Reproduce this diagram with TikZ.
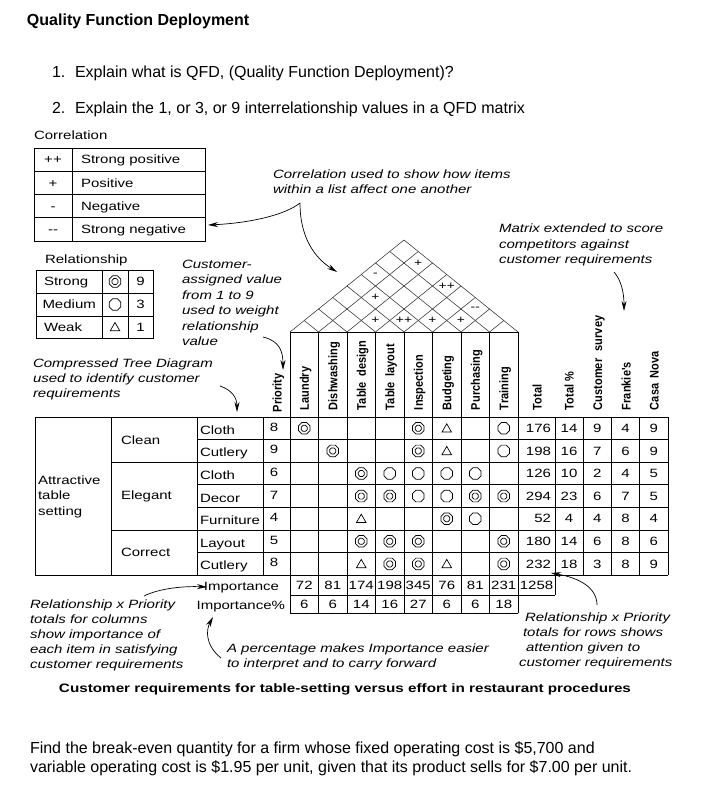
\documentclass[tikz,border=0pt]{standalone}
\usepackage{fontspec}
\setmainfont{Liberation Sans}
\newfontfamily\dfont[FakeStretch=1.25]{Liberation Sans}
\newfontfamily\hfont[FakeStretch=0.88]{Liberation Sans}
\usetikzlibrary{shapes.geometric,arrows.meta}
\begin{document}
\begin{tikzpicture}[x=1pt,y=-1pt,
  every node/.style={inner sep=0pt,outer sep=0pt},
  big/.style={font=\fontsize{16}{19}\selectfont,anchor=base west},
  dtxt/.style={font=\dfont\fontsize{12}{14}\selectfont,anchor=base west},
  dnote/.style={font=\dfont\itshape\fontsize{12}{14}\selectfont,anchor=base west},
  dnum/.style={font=\dfont\fontsize{12}{14}\selectfont,anchor=base},
  rsym/.style={font=\dfont\fontsize{11}{12}\selectfont,anchor=center},
  hdr/.style={font=\hfont\bfseries\fontsize{12.5}{14}\selectfont,rotate=90,anchor=west,text height=9pt,text depth=0pt},
  ln/.style={line width=0.8pt},
  roof/.style={line width=0.55pt,draw=black!80},
  arr/.style={line width=0.7pt,-{Stealth[length=10pt,width=5pt]}},
  strongo/.style={regular polygon,regular polygon sides=8,draw,line width=0.7pt,minimum size=12.5pt},
  strongi/.style={regular polygon,regular polygon sides=8,draw,line width=0.7pt,minimum size=6.5pt},
  medium/.style={regular polygon,regular polygon sides=8,draw,line width=0.7pt,minimum size=12.5pt},
  weak/.style={regular polygon,regular polygon sides=3,draw,line width=0.7pt,minimum size=11pt}
]
\fill[white] (0,0) rectangle (709,802);
\useasboundingbox (0,0) rectangle (709,802);

% ---------- title and questions ----------
\node[big,font=\bfseries\fontsize{16}{19}\selectfont] (title) at (27,25.5) {Quality Function Deployment};
\node[big] (q1n) at (52,77.5) {1.};
\node[big] (q1) at (75,77.5) {Explain what is QFD, (Quality Function Deployment)?};
\node[big] (q2n) at (52,113.5) {2.};
\node[big] (q2) at (75,113.5) {Explain the 1, or 3, or 9 interrelationship values in a QFD matrix};

% ---------- correlation legend ----------
\node[dtxt] (corrlbl) at (34,140) {Correlation};
\draw[ln] (34,148) rectangle (205,241);
\draw[ln] (72,148) -- (72,241);
\foreach \yy in {171.25,194.5,217.75} \draw[ln] (34,\yy) -- (205,\yy);
\foreach \s/\t [count=\k] in {++/Strong positive,+/Positive,-/Negative,-\kern0pt-/Strong negative}{
  \node[dnum] (cs\k) at (53,{163.8+23.25*(\k-1)}) {\s};
  \node[dtxt] (ct\k) at (81,{163.8+23.25*(\k-1)}) {\t};
}

% ---------- relationship legend ----------
\node[dtxt] (rellbl) at (45,263) {Relationship};
\draw[ln] (36,270) rectangle (153,338);
\draw[ln] (102,270) -- (102,338);
\draw[ln] (128,270) -- (128,338);
\draw[ln] (36,293) -- (153,293);
\draw[ln] (36,316) -- (153,316);
\node[dtxt] (rl1) at (44,285.8) {Strong};
\node[dtxt] (rl2) at (42.5,308.8) {Medium};
\node[dtxt] (rl3) at (44,331.3) {Weak};
\node[strongo] (ls1) at (115,281.5) {};
\node[strongi] (ls1i) at (115,281.5) {};
\node[medium] (ls2) at (115,304.5) {};
\node[weak] (ls3) at (115,328) {};
\node[dnum] (rv1) at (140.5,285.8) {9};
\node[dnum] (rv2) at (140.5,308.8) {3};
\node[dnum] (rv3) at (140.5,331.3) {1};

% ---------- annotations ----------
\foreach \t [count=\k] in {Correlation used to show how items,within a list affect one another}
  \node[dnote] (ca\k) at (273,{179+15*(\k-1)}) {\t};
\foreach \t [count=\k] in {Customer-,assigned value,from 1 to 9,used to weight,relationship,value}
  \node[dnote] (cv\k) at (182,{268+15.5*(\k-1)}) {\t};
\foreach \t [count=\k] in {Compressed Tree Diagram,used to identify customer,requirements}
  \node[dnote] (ct\k) at (33,{367+15*(\k-1)}) {\t};
\foreach \t [count=\k] in {Matrix extended to score,competitors against,customer requirements}
  \node[dnote] (me\k) at (499,{233+15*(\k-1)}) {\t};
\foreach \t [count=\k] in {Relationship x Priority,totals for columns,show importance of,each item in satisfying,customer requirements}
  \node[dnote] (rc\k) at (30,{608+15*(\k-1)}) {\t};
\foreach \t [count=\k] in {A percentage makes Importance easier,to interpret and to carry forward}
  \node[dnote] (ap\k) at (227,{652+15*(\k-1)}) {\t};
\node[dnote] (rr1) at (525,621) {Relationship x Priority};
\node[dnote] (rr2) at (523,636) {totals for rows shows};
\node[dnote] (rr3) at (526,651) {attention given to};
\node[dnote] (rr4) at (519,666) {customer requirements};
\node[font=\dfont\bfseries\fontsize{12.2}{14}\selectfont,anchor=base] (caption) at (345,692)
  {Customer requirements for table-setting versus effort in restaurant procedures};

% ---------- roof ----------
\draw[ln] (290,332) -- (518,332);
\foreach \k in {0,...,8}{
  \draw[roof] ({290+28.5*\k},332) -- ++({14.25*(8-\k)},{-11.5*(8-\k)});
  \draw[roof] ({290+28.5*\k},332) -- ++({-14.25*\k},{-11.5*\k});
}
\foreach \i/\j/\s [count=\k] in {0/5/-,1/7/+,3/7/++,1/4/+,5/7/-\kern0pt-,2/3/+,3/4/++,4/5/+,5/6/+}
  \node[rsym] (rs\k) at ({304.25+14.25*(\i+\j)},{332-11.5*(\j-\i)}) {\s};

% ---------- headers ----------
\node[hdr] (hp) at (277,412) {Priority};
\foreach \t [count=\k from 0] in {Laundry,Dishwashing,Table\hspace{0.45em}design,Table\hspace{0.45em}layout,Inspection,Budgeting,Purchasing,Training}
  \node[hdr] (h\k) at ({304.25+28.5*\k},410) {\t};
\node[hdr] (htot) at (537,410) {Total};
\node[hdr] (htp) at (569,410) {Total \%};
\node[hdr] (hcs) at (597.5,410) {Customer\hspace{0.6em}survey};
\node[hdr] (hfr) at (626,410) {Frankie's};
\node[hdr] (hcn) at (654,410) {Casa\hspace{0.45em}Nova};

% ---------- table grid ----------
\draw[ln] (35,417) -- (668,417);
\draw[ln] (35,575.2) -- (668,575.2);
\foreach \xx in {35,111,197,263} \draw[ln] (\xx,417) -- (\xx,575.2);
\foreach \r in {1,3,4,6} \draw[ln] (197,{417+22.6*\r}) -- (668,{417+22.6*\r});
\foreach \r in {2,5} \draw[ln] (111,{417+22.6*\r}) -- (668,{417+22.6*\r});
\foreach \k in {0,...,8} \draw[ln] ({290+28.5*\k},332) -- ({290+28.5*\k},613);
\draw[ln] (555,417) -- (555,595);
\foreach \xx in {583.25,611.5,639.75,668} \draw[ln] (\xx,417) -- (\xx,575.2);
\draw[ln] (290,595) -- (555,595);
\draw[ln] (290,613) -- (518,613);

% ---------- tree texts ----------
\node[dtxt] (att1) at (38,484) {Attractive};
\node[dtxt] (att2) at (38,499.5) {table};
\node[dtxt] (att3) at (38,515) {setting};
\node[dtxt] (gclean) at (121,444) {Clean};
\node[dtxt] (geleg) at (121,499.5) {Elegant};
\node[dtxt] (gcorr) at (121,556) {Correct};
\foreach \t/\p [count=\r] in {Cloth/8,Cutlery/9,Cloth/6,Decor/7,Furniture/4,Layout/5,Cutlery/8}{
  \node[dtxt] (it\r) at (200,{417+22.6*(\r-0.5)+6}) {\t};
  \node[dnum] (pr\r) at (274,{417+22.6*(\r-0.5)+3}) {\p};
}

% ---------- relationship symbols ----------
\foreach \c/\r in {0/1,4/1,1/2,4/2,2/3,2/4,3/4,6/4,7/4,5/5,2/6,3/6,4/6,7/6,3/7,4/7,7/7}{
  \node[strongo] (so\c\r) at ({304.25+28.5*\c},{417+22.6*(\r-0.5)}) {};
  \node[strongi] (si\c\r) at ({304.25+28.5*\c},{417+22.6*(\r-0.5)}) {};
}
\foreach \c/\r in {7/1,7/2,3/3,4/3,5/3,6/3,4/4,5/4,6/5}
  \node[medium] (mo\c\r) at ({304.25+28.5*\c},{417+22.6*(\r-0.5)}) {};
\foreach \c/\r in {5/1,5/2,2/5,2/7,5/7}
  \node[weak] (wk\c\r) at ({304.25+28.5*\c},{417+22.6*(\r-0.5)+1}) {};

% ---------- right-hand numbers ----------
\foreach \a/\b/\c/\d/\e [count=\r] in {176/14/9/4/9,198/16/7/6/9,126/10/2/4/5,294/23/6/7/5,52/4/4/8/4,180/14/6/8/6,232/18/3/8/9}{
  \node[dnum,anchor=base east] (tt\r) at (551,{417+22.6*(\r-0.5)+4.2}) {\a};
  \node[dnum] (tq\r) at (569,{417+22.6*(\r-0.5)+4.2}) {\b};
  \node[dnum] (tc\r) at (597.4,{417+22.6*(\r-0.5)+4.2}) {\c};
  \node[dnum] (tf\r) at (625.6,{417+22.6*(\r-0.5)+4.2}) {\d};
  \node[dnum] (tn\r) at (653.9,{417+22.6*(\r-0.5)+4.2}) {\e};
}

% ---------- importance rows ----------
\node[dtxt,anchor=base east] (implbl) at (279,590) {Importance};
\node[dtxt,anchor=base east] (imppl) at (285,609) {Importance\%};
\foreach \v [count=\k from 0] in {72,81,174,198,345,76,81,231}
  \node[dnum] (iv\k) at ({304.25+28.5*\k},589.5) {\v};
\node[dnum] (ivt) at (536.5,589.5) {1258};
\foreach \v [count=\k from 0] in {6,6,14,16,27,6,6,18}
  \node[dnum] (ip\k) at ({304.25+28.5*\k},608.5) {\v};

% ---------- arrows ----------
\coordinate (a1s) at (300,203);
\coordinate (a1e) at (208,225);
\coordinate (a2e) at (337,272);
\draw[arr] (a1s) .. controls (285,215) and (250,223) .. (a1e);
\draw[arr] (a1s) .. controls (300,238) and (315,258) .. (a2e);
\coordinate (a3s) at (263,337);
\coordinate (a3e) at (283,370);
\draw[arr] (a3s) .. controls (280,341) and (283,352) .. (a3e);
\coordinate (a4s) at (220,386);
\coordinate (a4e) at (237,412);
\draw[arr] (a4s) .. controls (232,390) and (237,398) .. (a4e);
\coordinate (a5s) at (614,272);
\coordinate (a5e) at (624,311);
\draw[arr] (a5s) .. controls (621,280) and (624,292) .. (a5e);
\coordinate (a6s) at (144,596);
\coordinate (a6e) at (207,587);
\draw[arr] (a6s) .. controls (160,588) and (185,586) .. (a6e);
\coordinate (a7s) at (221,658);
\coordinate (a7e) at (213,617);
\draw[arr] (a7s) .. controls (205,645) and (206,630) .. (a7e);
\coordinate (a8s) at (597,605);
\coordinate (a8e) at (551,573);
\draw[arr] (a8s) .. controls (597,588) and (580,578) .. (a8e);

% ---------- bottom question ----------
\node[big] (fq1) at (30,753.5) {Find the break-even quantity for a firm whose fixed operating cost is \$5,700 and};
\node[big] (fq2) at (30,772.5) {variable operating cost is \$1.95 per unit, given that its product sells for \$7.00 per unit.};
\end{tikzpicture}
\end{document}
